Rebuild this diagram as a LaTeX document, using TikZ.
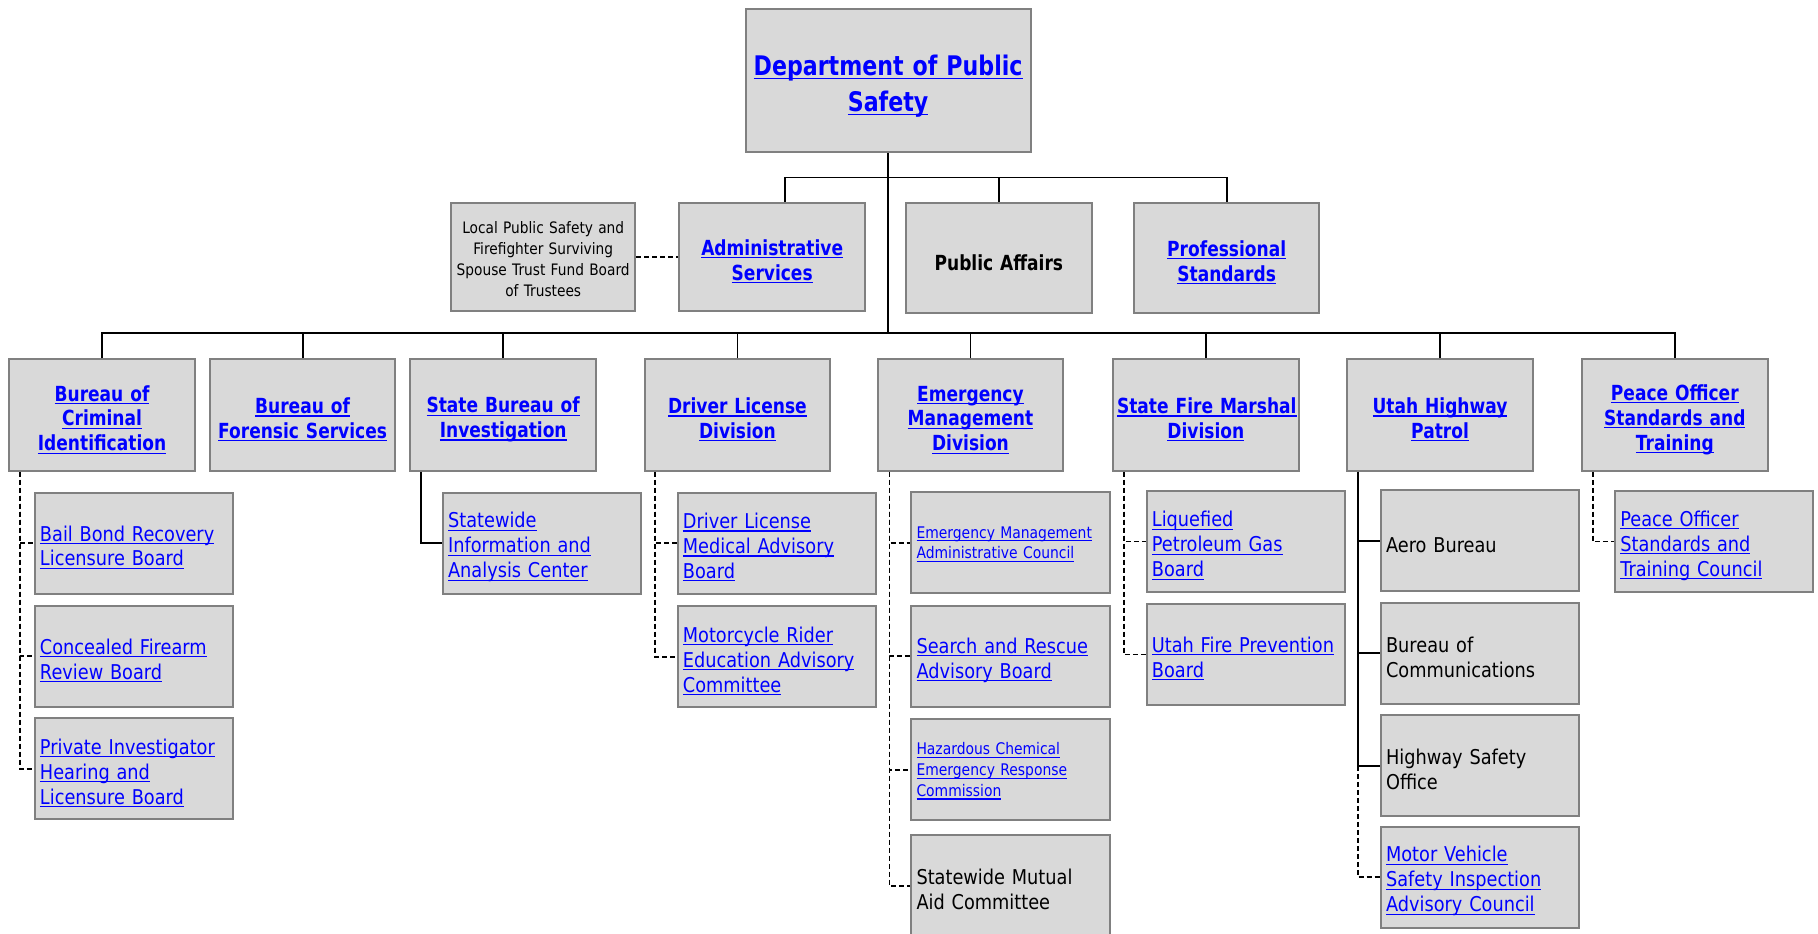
\documentclass[tikz,border=0pt]{standalone}
\usepackage{fontspec}
\usepackage{xcolor}
\usepackage{tikz}
\setmainfont{DejaVu Sans}[FakeStretch=0.87]
\newfontfamily\hdfont{DejaVu Sans}[FakeStretch=0.82]
\definecolor{boxgray}{HTML}{D9D9D9}
\definecolor{edgegray}{HTML}{808080}
\definecolor{linkblue}{HTML}{0000FF}
\newlength{\lnkwd}
\newcommand{\lnk}[1]{\settowidth{\lnkwd}{#1}\mbox{\rlap{\rule[-1.5pt]{\lnkwd}{0.6pt}}#1}}

\begin{document}
\begin{tikzpicture}[x=0.58pt,y=-0.58pt,
  liftht/.store in=\liftht,liftht=12.4pt,
  box/.style={draw=edgegray,line width=1pt,fill=boxgray,inner sep=2pt,
    execute at begin node={\rule{0pt}{\liftht}}},
  unitbox/.style={box,minimum width=92.8pt,minimum height=55.7pt,text width=88.8pt,align=center,
    font=\hdfont\bfseries\fontsize{10.4}{12.4}\selectfont,liftht=12.4pt},
  subbox/.style={box,minimum height=50.5pt,text width=94pt,align=left,inner xsep=2.6pt,
    font=\fontsize{10.2}{12.5}\selectfont,liftht=11.8pt},
  link/.style={text=linkblue},
  smalltext/.style={font=\fontsize{8}{10.4}\selectfont,liftht=7.4pt},
  tie/.style={line width=0.9pt},
  dashtie/.style={line width=0.9pt,dash pattern=on 2.5pt off 1.5pt}]
\clip (0,0) rectangle (1568,805);
% top
\node[unitbox,link,minimum width=142.7pt,minimum height=71.3pt,text width=138pt,
  font=\hdfont\bfseries\fontsize{13.5}{18}\selectfont,liftht=16.2pt] (dps) at (766,69.5)
  {\lnk{Department of Public}\\\lnk{Safety}};
% second row
\node[box,minimum width=92.2pt,minimum height=53.9pt,text width=88.2pt,align=center,
  font=\fontsize{7.9}{10.4}\selectfont,liftht=8.4pt] (lps) at (468.5,221.5)
  {Local Public Safety and\\Firefighter Surviving\\Spouse Trust Fund Board\\of Trustees};
\node[unitbox,link,minimum height=53.9pt] (adm) at (666,221.5) {\lnk{Administrative}\\\lnk{Services}};
\node[unitbox,minimum height=55pt] (pa) at (861.5,222.5) {Public Affairs};
\node[unitbox,link,minimum height=55pt] (pro) at (1058,222.5) {\lnk{Professional}\\\lnk{Standards}};
% divisions
\node[unitbox,link] (bci) at (88,358) {\lnk{Bureau of}\\\lnk{Criminal}\\\lnk{Identification}};
\node[unitbox,link] (bfs) at (261,358) {\lnk{Bureau of}\\\lnk{Forensic Services}};
\node[unitbox,link] (sbi) at (434,358) {\lnk{State Bureau of}\\\lnk{Investigation}};
\node[unitbox,link] (dld) at (636,358) {\lnk{Driver License}\\\lnk{Division}};
\node[unitbox,link] (emd) at (837,358) {\lnk{Emergency}\\\lnk{Management}\\\lnk{Division}};
\node[unitbox,link] (sfm) at (1040,358) {\lnk{State Fire Marshal}\\\lnk{Division}};
\node[unitbox,link] (uhp) at (1242,358) {\lnk{Utah Highway}\\\lnk{Patrol}};
\node[unitbox,link] (post) at (1444.5,358) {\lnk{Peace Officer}\\\lnk{Standards and}\\\lnk{Training}};
% boards and offices
\node[subbox,link] (bb) at (115.5,468.5) {\lnk{Bail Bond Recovery}\\\lnk{Licensure Board}};
\node[subbox,link] (cf) at (115.5,566) {\lnk{Concealed Firearm}\\\lnk{Review Board}};
\node[subbox,link] (pi) at (115.5,663) {\lnk{Private Investigator}\\\lnk{Hearing and}\\\lnk{Licensure Board}};
\node[subbox,link] (sw) at (467.5,468.5) {\lnk{Statewide}\\\lnk{Information and}\\\lnk{Analysis Center}};
\node[subbox,link] (dlm) at (670,468.5) {\lnk{Driver License}\\\lnk{Medical Advisory}\\\lnk{Board}};
\node[subbox,link] (mr) at (670,566.5) {\lnk{Motorcycle Rider}\\\lnk{Education Advisory}\\\lnk{Committee}};
\node[subbox,link,smalltext] (ema) at (871.5,468) {\lnk{Emergency Management}\\\lnk{Administrative Council}};
\node[subbox,link] (sr) at (871.5,566) {\lnk{Search and Rescue}\\\lnk{Advisory Board}};
\node[subbox,link,smalltext] (hc) at (871.5,664) {\lnk{Hazardous Chemical}\\\lnk{Emergency Response}\\\lnk{Commission}};
\node[subbox] (sm) at (871.5,764) {Statewide Mutual\\Aid Committee};
\node[subbox,link] (lpg) at (1074.5,467) {\lnk{Liquefied}\\\lnk{Petroleum Gas}\\\lnk{Board}};
\node[subbox,link] (ufp) at (1074.5,564.5) {\lnk{Utah Fire Prevention}\\\lnk{Board}};
\node[subbox] (aero) at (1276.5,466.5) {Aero Bureau};
\node[subbox] (boc) at (1276.5,563.5) {Bureau of\\Communications};
\node[subbox] (hso) at (1276.5,660.5) {Highway Safety\\Office};
\node[subbox,link] (mv) at (1276.5,756.5) {\lnk{Motor Vehicle}\\\lnk{Safety Inspection}\\\lnk{Advisory Council}};
\node[subbox,link] (poc) at (1478.5,467) {\lnk{Peace Officer}\\\lnk{Standards and}\\\lnk{Training Council}};
% connectors
\coordinate (bus1) at (766,153);
\coordinate (bus2) at (766,287);
\draw[tie] (dps.south) -- (bus2);
\draw[tie] ([xshift=6.4pt]adm.north) |- (bus1) -| (pro.north);
\draw[tie] (pa.north) -- (pa.north |- bus1);
\draw[dashtie] (lps) -- (adm);
\draw[tie] (bci.north) |- (bus2) -| (post.north);
\foreach \n in {bfs,sbi,dld,emd,sfm,uhp}
  \draw[tie] (\n.north) -- (\n.north |- bus2);
\foreach \c in {bb,cf,pi}
  \draw[dashtie] ([xshift=5.8pt]bci.south west) |- (\c.west);
\draw[tie] ([xshift=5.8pt]sbi.south west) |- (sw.west);
\foreach \c in {dlm,mr}
  \draw[dashtie] ([xshift=5.8pt]dld.south west) |- (\c.west);
\foreach \c in {ema,sr,hc,sm}
  \draw[dashtie] ([xshift=6.4pt]emd.south west) |- (\c.west);
\foreach \c in {lpg,ufp}
  \draw[dashtie] ([xshift=5.8pt]sfm.south west) |- (\c.west);
\foreach \c in {aero,boc,hso}
  \draw[tie] ([xshift=5.8pt]uhp.south west) |- (\c.west);
\draw[dashtie] ([xshift=5.8pt]uhp.south west |- hso.west) |- (mv.west);
\draw[dashtie] ([xshift=5.8pt]post.south west) |- (poc.west);
\end{tikzpicture}
\end{document}
